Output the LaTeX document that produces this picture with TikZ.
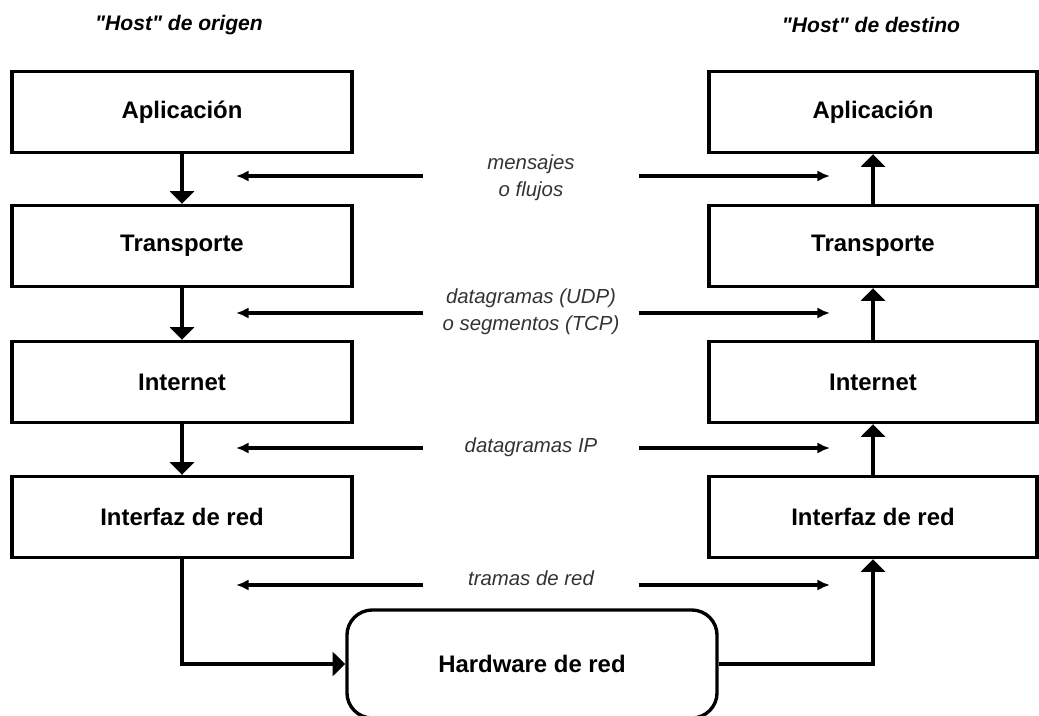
\documentclass[tikz,border=0pt]{standalone}
\usepackage{fontspec}
\setmainfont{Liberation Sans}
\usepackage{tikz}
\usetikzlibrary{arrows.meta, positioning}

\begin{document}
\begin{tikzpicture}[x=0.025cm, y=-0.025cm,
    capa/.style={draw, line width=2.4pt, minimum width=8.5cm, minimum height=2.025cm,
                 font=\fontsize{17}{20}\selectfont\bfseries},
    capader/.style={capa, minimum width=8.2cm},
    bajada/.style={line width=3.4pt, -{Triangle[length=9pt,width=17pt]}},
    flujo/.style={line width=2.2pt, -{Latex[length=9pt,width=8pt]}},
    etiqueta/.style={text=black!80, font=\fontsize{14.5}{19}\selectfont\itshape,
                     align=center, minimum width=5.4cm},
    titulo/.style={font=\fontsize{15}{18}\selectfont\bfseries\itshape}]

    \useasboundingbox (0,0) rectangle (1039,716);
    \clip (0,0) rectangle (1039,716);

    % Titles
    \node[titulo] (torig) at (179,25) {\textquotedbl Host\textquotedbl{} de origen};
    \node[titulo] (tdest) at (871,25) {\textquotedbl Host\textquotedbl{} de destino};

    % Layers of the source host
    \node[capa] (oapl) at (182,112) {Aplicación};
    \node[capa] (otra) at (182,246) {Transporte};
    \node[capa] (oint) at (182,382) {Internet};
    \node[capa] (oifz) at (182,517) {Interfaz de red};

    % Layers of the destination host
    \node[capader] (dapl) at (873,112) {Aplicación};
    \node[capader] (dtra) at (873,246) {Transporte};
    \node[capader] (dint) at (873,382) {Internet};
    \node[capader] (difz) at (873,517) {Interfaz de red};

    % Network hardware
    \node[capa, rounded corners=18pt, minimum width=9.25cm, minimum height=2.7cm] (hw)
        at (532,664) {Hardware de red};

    % Down the source stack
    \draw[bajada] (oapl.south) -- (otra.north);
    \draw[bajada] (otra.south) -- (oint.north);
    \draw[bajada] (oint.south) -- (oifz.north);
    \draw[bajada] (oifz.south) |- (hw.west);

    % Up the destination stack
    \draw[bajada] (hw.east) -| (difz.south);
    \draw[bajada] (difz.north) -- (dint.south);
    \draw[bajada] (dint.north) -- (dtra.south);
    \draw[bajada] (dtra.north) -- (dapl.south);

    % Peer exchanges
    \node[etiqueta] (lmsg) at (531,178) {mensajes\\o flujos};
    \node[etiqueta] (ludp) at (531,312) {datagramas (UDP)\\o segmentos (TCP)};
    \node[etiqueta] (lip)  at (531,447) {datagramas IP};
    \node[etiqueta] (ltrm) at (531,578) {tramas de red};

    \coordinate (msgi) at (236,176);  \coordinate (msgd) at (830,176);
    \coordinate (udpi) at (236,313);  \coordinate (udpd) at (830,313);
    \coordinate (ipi)  at (236,448);  \coordinate (ipd)  at (830,448);
    \coordinate (trmi) at (236,585);  \coordinate (trmd) at (830,585);

    \draw[flujo] (lmsg.west |- msgi) -- (msgi);
    \draw[flujo] (lmsg.east |- msgd) -- (msgd);
    \draw[flujo] (ludp.west |- udpi) -- (udpi);
    \draw[flujo] (ludp.east |- udpd) -- (udpd);
    \draw[flujo] (lip.west |- ipi) -- (ipi);
    \draw[flujo] (lip.east |- ipd) -- (ipd);
    \draw[flujo] (ltrm.west |- trmi) -- (trmi);
    \draw[flujo] (ltrm.east |- trmd) -- (trmd);
\end{tikzpicture}
\end{document}
